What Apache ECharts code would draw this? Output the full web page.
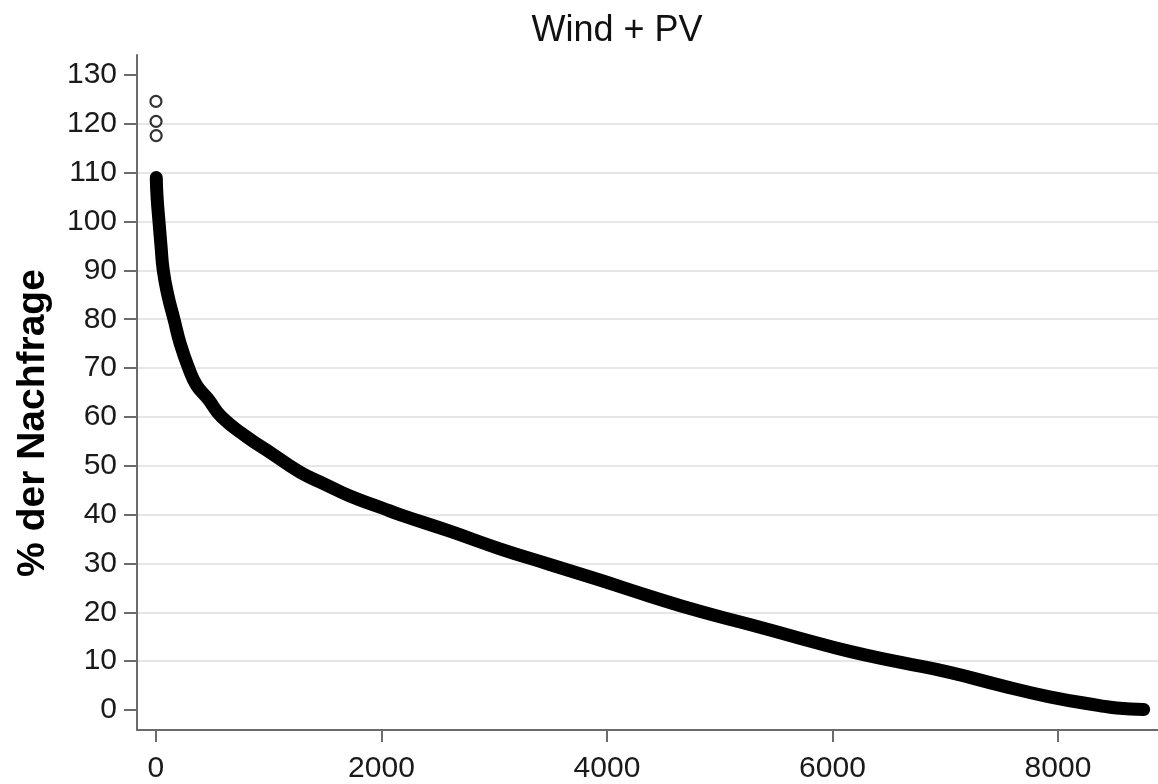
<!DOCTYPE html>
<html>
<head>
<meta charset="utf-8">
<title>Wind + PV</title>
<script src="https://cdn.jsdelivr.net/npm/echarts@6.0.0/dist/echarts.min.js"></script>
<style>
  html, body { margin: 0; padding: 0; background: #fff; }
  #chart { width: 1158px; height: 784px; }
</style>
</head>
<body>
<div id="chart"></div>
<script>
// sorted hourly share of demand covered by wind + PV (duration curve)
const hours = [3, 10, 27, 45, 65, 105, 160, 215, 290, 360, 461, 582, 800, 1028, 1277, 1500, 1720, 2000, 2163, 2606, 3050, 3493, 3936, 4380, 4823, 5266, 5709, 6152, 6596, 7039, 7482, 7926, 8369, 8520, 8760];
const share = [109, 105, 100, 95, 90, 85, 80, 75, 70, 66.5, 63.7, 60, 56, 52.5, 48.7, 46.2, 43.8, 41.4, 40, 36.6, 33, 29.8, 26.6, 23.3, 20.2, 17.5, 14.7, 12, 9.8, 7.7, 5.1, 2.7, 0.9, 0.4, 0.1];

// the three highest hours stand apart from the band
const peakHours = [0, 1, 2];
const peakShare = [124.6, 120.5, 117.6];

const xTicks = [0, 2000, 4000, 6000, 8000];
const yTicks = [0, 10, 20, 30, 40, 50, 60, 70, 80, 90, 100, 110, 120, 130];

const font = '"Liberation Sans", Arial, sans-serif';
const axisGrey = '#6b6b6b';

const chart = echarts.init(document.getElementById('chart'));

chart.setOption({
  animation: false,
  title: {
    text: 'Wind + PV',
    left: 612,
    top: 8,
    textAlign: 'center',
    textStyle: { fontFamily: font, fontSize: 36, fontWeight: 'normal', color: '#111' },
  },
  graphic: [{
    type: 'text',
    x: 33,
    y: 423,
    rotation: Math.PI / 2,
    style: {
      text: '% der Nachfrage',
      font: `bold 39px ${font}`,
      fill: '#000',
      align: 'center',
      verticalAlign: 'middle',
    },
  }],
  grid: { left: 137, right: 0, top: 55, bottom: 52 },
  xAxis: {
    type: 'value',
    min: -168,
    max: 8887,
    minInterval: 2000,
    maxInterval: 2000,
    axisLine: { show: true, onZero: false, lineStyle: { color: axisGrey, width: 2 } },
    axisTick: { show: true, length: 12, customValues: xTicks, lineStyle: { color: axisGrey, width: 2 } },
    axisLabel: {
      customValues: xTicks,
      formatter: (v) => String(v),
      margin: 24,
      fontFamily: font,
      fontSize: 30,
      color: '#1a1a1a',
    },
    splitLine: { show: false },
  },
  yAxis: {
    type: 'value',
    min: -4.1,
    max: 134.1,
    minInterval: 10,
    maxInterval: 10,
    axisLine: { show: true, onZero: false, lineStyle: { color: axisGrey, width: 2 } },
    axisTick: { show: true, length: 13, customValues: yTicks, lineStyle: { color: axisGrey, width: 2 } },
    axisLabel: { customValues: yTicks, margin: 20, fontFamily: font, fontSize: 30, color: '#1a1a1a' },
    splitLine: {
      show: true,
      showMinLine: false,
      showMaxLine: false,
      lineStyle: { color: '#e6e6e6', width: 2 },
    },
  },
  series: [
    {
      type: 'line',
      data: hours.map((h, i) => [h, share[i]]),
      showSymbol: false,
      smooth: 0.5,
      lineStyle: { color: '#000', width: 13, cap: 'round', join: 'round' },
      z: 3,
    },
    {
      type: 'scatter',
      data: peakHours.map((h, i) => [h, peakShare[i]]),
      symbol: 'circle',
      symbolSize: 11,
      itemStyle: { color: '#fff', borderColor: '#000', borderWidth: 2.2 },
      z: 4,
    },
  ],
});
</script>
</body>
</html>
